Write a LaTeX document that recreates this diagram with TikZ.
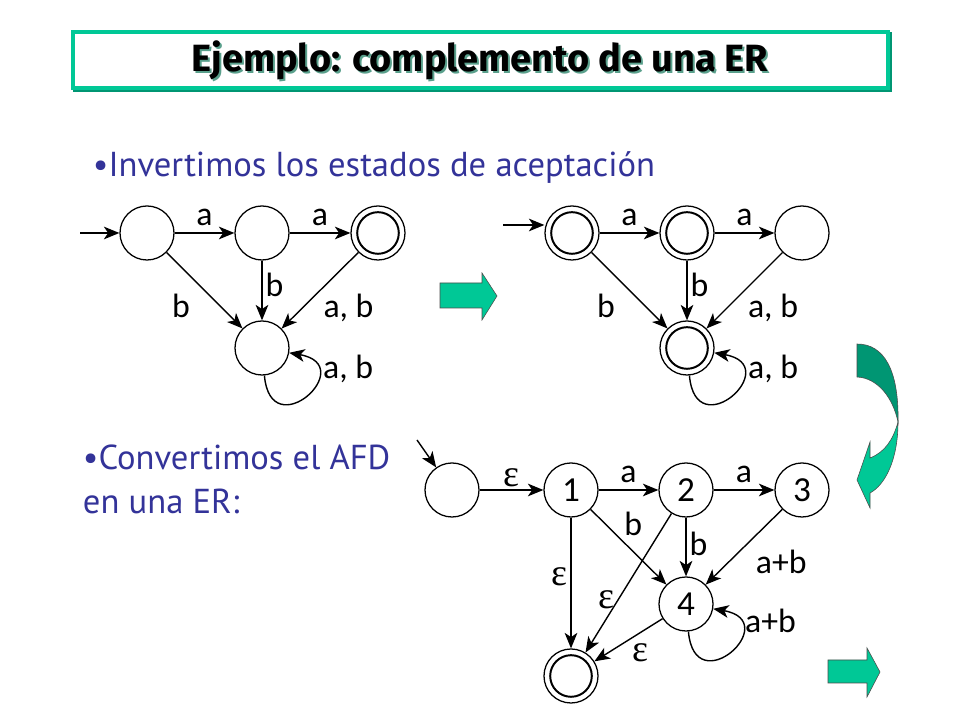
\documentclass[tikz,border=0pt]{standalone}
\usepackage{fontspec}
\setmainfont{Carlito}
\newfontfamily\comic{PT Sans}
\newfontfamily\comicb{Fira Sans}
\newfontfamily\griega{Liberation Serif}
\usetikzlibrary{arrows.meta,positioning}
\definecolor{verde}{RGB}{0,200,150}
\definecolor{verdeosc}{RGB}{0,150,115}
\definecolor{sombra}{RGB}{90,160,140}
\definecolor{azul}{RGB}{51,51,153}

\begin{document}
\begin{tikzpicture}[x=0.025cm,y=0.025cm,
  estado/.style={draw,circle,line width=0.9pt,minimum size=1.35cm,inner sep=0pt,
    font=\fontsize{25}{25}\selectfont},
  final/.style={path picture={\draw[line width=1.4pt]
    (path picture bounding box.center) circle (0.52cm);}},
  flecha/.style={-{Stealth[length=11pt,width=9pt,inset=3pt]},line width=1pt},
  etq/.style={font=\fontsize{24}{24}\selectfont,inner sep=2pt},
  eps/.style={font=\griega\fontsize{27}{27}\selectfont,inner sep=2pt},
  bloque/.style={fill=verde,draw=black!70,line width=0.4pt}]
\useasboundingbox[fill=white] (0,0) rectangle (960,720);

% titulo
\draw[verdeosc,line width=3.5pt] (75,630) rectangle (890,686);
\draw[verde,line width=3.5pt,fill=white] (73,632) rectangle (888,688);
\node[sombra,font=\comicb\bfseries\fontsize{27}{27}\selectfont] (tsombra) at (482,658) {Ejemplo: complemento de una ER};
\node[font=\comicb\bfseries\fontsize{27}{27}\selectfont] (titulo) at (480,660) {Ejemplo: complemento de una ER};

\node[azul,anchor=west,font=\comic\fontsize{24.6}{24.6}\selectfont] (txt1) at (88,552) {•Invertimos los estados de aceptación};

% AFD original
\node[estado] (A) at (147,487) {};
\node[estado] (B) at (262,487) {};
\node[estado,final] (C) at (378,487) {};
\node[estado] (D) at (262,372) {};
\coordinate (ini1) at (80,487);
\draw[flecha] (ini1) -- (A);
\draw[flecha] (A) -- (B) node[etq,midway,above=3pt] (ab) {a};
\draw[flecha] (B) -- (C) node[etq,midway,above=3pt] (bc) {a};
\draw[flecha] (A) -- (D) node[etq,pos=0.5,below left=0pt and 8pt] (ad) {b};
\draw[flecha] (B) -- (D) node[etq,pos=0.4,right] (bd) {b};
\draw[flecha] (C) -- (D) node[etq,midway,below right] (cd) {a, b};
\draw[flecha] (D) to[out=-85,in=-10,looseness=5.5] node[etq,pos=0.78,right=3pt] (dd) {a, b} (D);

% flecha gruesa
\draw[bloque] (440,412) -- (482,412) -- (482,400) -- (497,424) -- (482,447) -- (482,437) -- (440,437) -- cycle;

% AFD complementado
\node[estado,final] (A2) at (572,487) {};
\node[estado,final] (B2) at (687,487) {};
\node[estado] (C2) at (802,487) {};
\node[estado,final] (D2) at (687,372) {};
\coordinate (ini2) at (503,495);
\draw[flecha] (ini2) -- (ini2 -| A2.west);
\draw[flecha] (A2) -- (B2) node[etq,midway,above=3pt] (ab2) {a};
\draw[flecha] (B2) -- (C2) node[etq,midway,above=3pt] (bc2) {a};
\draw[flecha] (A2) -- (D2) node[etq,pos=0.5,below left=0pt and 8pt] (ad2) {b};
\draw[flecha] (B2) -- (D2) node[etq,pos=0.4,right] (bd2) {b};
\draw[flecha] (C2) -- (D2) node[etq,midway,below right] (cd2) {a, b};
\draw[flecha] (D2) to[out=-85,in=-10,looseness=5.5] node[etq,pos=0.78,right=3pt] (dd2) {a, b} (D2);

% flecha curva
\fill[verdeosc,draw=black!70,line width=0.4pt] (857,376) .. controls (884,376) and (899,350) .. (898,298)
  .. controls (893,322) and (878,342) .. (857,343) -- cycle;
\draw[bloque] (898,298) .. controls (893,280) and (885,268) .. (870,262) -- (870,278) -- (857,240)
  -- (870,212) -- (870,227) .. controls (885,235) and (898,260) .. (898,298) -- cycle;

\node[azul,anchor=north west,align=left,font=\comic\fontsize{24.6}{31}\selectfont] (txt2) at (78,280) {•Convertimos el AFD\\en una ER:};

% automata para la ER
\node[estado] (S0) at (452,230) {};
\node[estado] (N1) at (571,230) {1};
\node[estado] (N2) at (686,230) {2};
\node[estado] (N3) at (802,230) {3};
\node[estado] (N4) at (686,116) {4};
\node[estado,final] (NF) at (571,44) {};
\coordinate (ini3) at (417,280);
\draw[flecha] (ini3) -- (S0);
\draw[flecha] (S0) -- (N1) node[eps,midway,above] (e01) {ε};
\draw[flecha] (N1) -- (N2) node[etq,midway,above=3pt] (e12) {a};
\draw[flecha] (N2) -- (N3) node[etq,midway,above=3pt] (e23) {a};
\draw[flecha] (N1) -- (N4) node[etq,pos=0.4,above right] (e14) {b};
\draw[flecha] (N2) -- (N4) node[etq,pos=0.45,right] (e24) {b};
\draw[flecha] (N3) -- (N4) node[etq,midway,below right=0pt and 6pt] (e34) {a+b};
\draw[flecha] (N1) -- (NF) node[eps,pos=0.45,left] (e1f) {ε};
\draw[flecha] (N2) -- (NF) node[eps,pos=0.62,left] (e2f) {ε};
\draw[flecha] (N4) -- (NF) node[eps,midway,below right] (e4f) {ε};
\draw[flecha] (N4) to[out=-85,in=-10,looseness=5.5] node[etq,pos=0.82,right=3pt] (e44) {a+b} (N4);

\draw[bloque] (828,37) -- (867,37) -- (867,23) -- (880,48) -- (867,72) -- (867,60) -- (828,60) -- cycle;
\end{tikzpicture}
\end{document}
